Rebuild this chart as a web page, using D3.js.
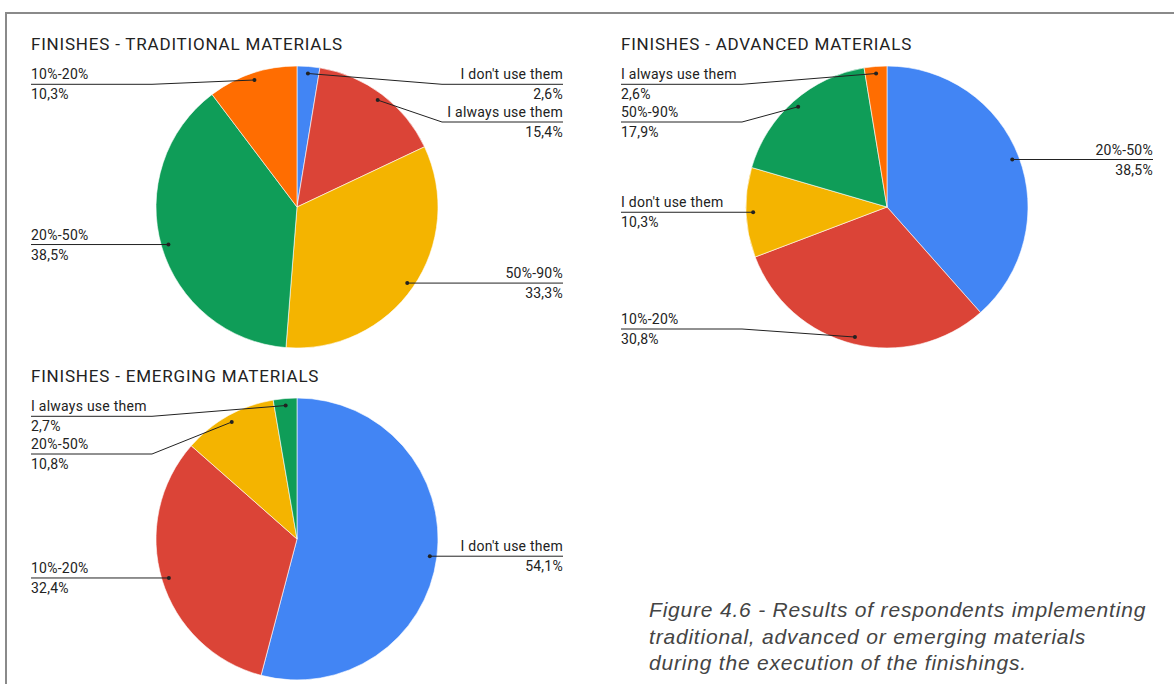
<!DOCTYPE html>
<html>
<head>
<meta charset="utf-8">
<script src="https://cdn.jsdelivr.net/npm/d3@7"></script>
<style>
  html, body { margin: 0; padding: 0; background: #fff; }
  svg { display: block; }
  .title { font-family: Roboto, "Noto Sans", sans-serif; font-size: 17px; letter-spacing: 0.8px; fill: #222; }
  .lbl { font-family: Roboto, "Noto Sans", sans-serif; font-size: 14px; letter-spacing: 0.25px; fill: #222; }
  .caption { font-family: "Liberation Sans", Arial, sans-serif; font-size: 21px; letter-spacing: 0.8px; font-style: italic; font-weight: 400; fill: #444; }
</style>
</head>
<body>
<script>
// Survey answers: share of respondents per usage band, for each material family
const tradCategories = ["I don't use them", "I always use them", "50%-90%", "20%-50%", "10%-20%"];
const tradValues     = [2.6, 15.4, 33.3, 38.5, 10.3];

const advCategories  = ["20%-50%", "10%-20%", "I don't use them", "50%-90%", "I always use them"];
const advValues      = [38.5, 30.8, 10.3, 17.9, 2.6];

const emgCategories  = ["I don't use them", "10%-20%", "20%-50%", "I always use them"];
const emgValues      = [54.1, 32.4, 10.8, 2.7];

const chartTitles = ["FINISHES - TRADITIONAL MATERIALS", "FINISHES - ADVANCED MATERIALS", "FINISHES - EMERGING MATERIALS"];
const captionLines = [
  "Figure 4.6 - Results of respondents implementing",
  "traditional, advanced or emerging materials",
  "during the execution of the finishings."
];

const sliceColors = ["#4285F4", "#DB4437", "#F4B400", "#0F9D58", "#FF6D01"];

const W = 1174, H = 684;
const svg = d3.select("body").append("svg").attr("width", W).attr("height", H);

// page frame (top and left rules)
svg.append("line").attr("x1", 6).attr("y1", 13).attr("x2", W).attr("y2", 13)
  .attr("stroke", "#8a8a8a").attr("stroke-width", 2);
svg.append("line").attr("x1", 6).attr("y1", 12).attr("x2", 6).attr("y2", H)
  .attr("stroke", "#8a8a8a").attr("stroke-width", 2);

const R = 141;
const panels = [
  { title: chartTitles[0], cats: tradCategories, vals: tradValues, cx: 297, cy: 207 },
  { title: chartTitles[1], cats: advCategories,  vals: advValues,  cx: 887, cy: 207 },
  { title: chartTitles[2], cats: emgCategories,  vals: emgValues,  cx: 297, cy: 539 }
];

const fmtPct = v => v.toFixed(1).replace(".", ",") + "%";

panels.forEach(p => {
  const g = svg.append("g");
  const data = p.cats.map((c, i) => ({ name: c, value: p.vals[i], color: sliceColors[i] }));

  g.append("text").attr("class", "title")
    .attr("x", p.cx - 266).attr("y", p.cy - 157).text(p.title);

  const pie = d3.pie().sort(null).value(d => d.value);
  const arcs = pie(data);
  const arc = d3.arc().innerRadius(0).outerRadius(R);

  const pieG = g.append("g").attr("transform", `translate(${p.cx},${p.cy})`);
  pieG.selectAll("path").data(arcs).join("path")
    .attr("d", arc)
    .attr("fill", d => d.data.color)
    .attr("stroke", "#fff").attr("stroke-width", 0.6);

  // anchor points inside each slice
  const anchorR = R * 0.95;
  const items = arcs.map(a => {
    const mid = (a.startAngle + a.endAngle) / 2;
    return {
      d: a.data,
      ax: p.cx + Math.sin(mid) * anchorR,
      ay: p.cy - Math.cos(mid) * anchorR,
      side: mid < Math.PI ? "right" : "left"
    };
  });

  // stack the labels on each side, keeping them apart and within the plot
  const gap = 37.7, minY = p.cy - 122.7, maxY = p.cy + 122;
  ["left", "right"].forEach(side => {
    const list = items.filter(it => it.side === side).sort((a, b) => a.ay - b.ay);
    let prev = -Infinity;
    list.forEach(it => {
      it.ly = Math.max(it.ay, minY, prev + gap);
      prev = it.ly;
    });
    for (let i = list.length - 1; i >= 0; i--) {
      const lim = maxY - (list.length - 1 - i) * gap;
      if (list[i].ly > lim) list[i].ly = lim;
    }
  });

  const line = d3.line();
  items.forEach(it => {
    const left = it.side === "left";
    const tx = left ? p.cx - 266 : p.cx + 266;
    const ex = left ? p.cx - 145 : p.cx + 145;
    g.append("path")
      .attr("d", line([[tx, it.ly], [ex, it.ly], [it.ax, it.ay]]))
      .attr("fill", "none").attr("stroke", "#222").attr("stroke-width", 1);
    g.append("circle").attr("cx", it.ax).attr("cy", it.ay).attr("r", 2).attr("fill", "#222");
    g.append("text").attr("class", "lbl")
      .attr("x", tx).attr("y", it.ly - 5)
      .attr("text-anchor", left ? "start" : "end").text(it.d.name);
    g.append("text").attr("class", "lbl")
      .attr("x", tx).attr("y", it.ly + 15)
      .attr("text-anchor", left ? "start" : "end").text(fmtPct(it.d.value));
  });
});

// figure caption
svg.append("text").attr("class", "caption")
  .selectAll("tspan").data(captionLines).join("tspan")
  .attr("x", 649).attr("y", (d, i) => 617 + i * 26.5)
  .text(d => d);
</script>
</body>
</html>
